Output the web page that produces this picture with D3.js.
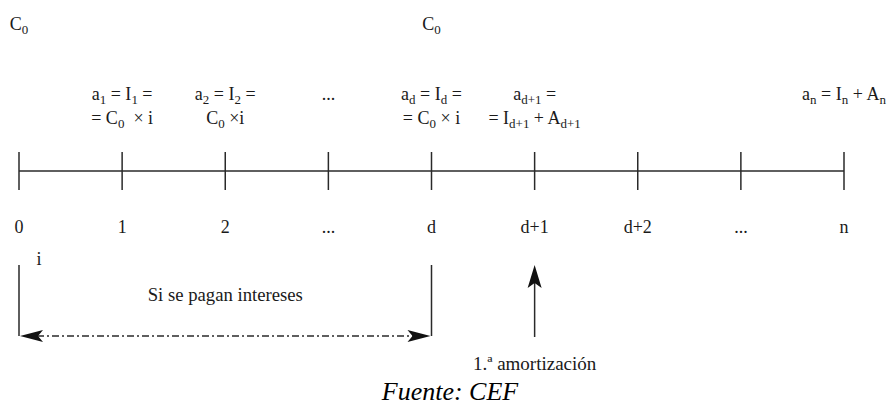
<!DOCTYPE html>
<html><head><meta charset="utf-8">
<script src="https://cdn.jsdelivr.net/npm/d3@7"></script>
</head><body style="margin:0;background:#fff">
<svg id="c" width="890" height="410"></svg>
<script>
// ---- data ----
const periods = ["0","1","2","...","d","d+1","d+2","...","n"];
const paymentLine1 = [null,"a_{1} = I_{1} =","a_{2} = I_{2} =","...","a_{d} = I_{d} =","a_{d+1} =",null,null,"a_{n} = I_{n} + A_{n}"];
const paymentLine2 = [null,"= C_{0}\u2002× i","C_{0} ×i",null,"= C_{0} × i","= I_{d+1} + A_{d+1}",null,null,null];
const capitalPeriods = ["0","d"];
const capitalLabel = "C_{0}";
const rateLabel = "i";
const interestSpan = ["0","d"];
const interestLabel = "Si se pagan intereses";
const firstAmortPeriod = "d+1";
const firstAmortLabel = "1.ª amortización";
const sourceLabel = "Fuente: CEF";

// ---- layout ----
const svg = d3.select("#c");
const x = d3.scalePoint().domain(d3.range(periods.length)).range([19, 844]);
const px = p => x(periods.indexOf(p));
const axisY = 171, stroke = "#2a2a2a", ink = "#1a1a1a";
const FONT = '"Liberation Serif"';

function rich(sel, str){
  const parts = str.split(/(_\{[^}]*\})/).filter(s => s.length);
  let shifted = false;
  parts.forEach(p => {
    if (p.startsWith("_{")) {
      sel.append("tspan").attr("dy", shifted ? 0 : 4).attr("font-size","0.72em").text(p.slice(2,-1));
      shifted = true;
    } else {
      sel.append("tspan").attr("dy", shifted ? -4 : 0).text(p);
      shifted = false;
    }
  });
}
const label = (xx, yy, size) => svg.append("text").attr("x", xx).attr("y", yy)
  .style("font-family", FONT).attr("font-size", size)
  .attr("text-anchor","middle").attr("fill", ink);

// timeline
svg.append("line").attr("x1", x(0)).attr("x2", x(periods.length-1))
  .attr("y1", axisY).attr("y2", axisY).attr("stroke", stroke).attr("stroke-width", 1.5);
svg.selectAll("line.tick").data(d3.range(periods.length)).join("line").attr("class","tick")
  .attr("x1", d => x(d)).attr("x2", d => x(d)).attr("y1", axisY-19).attr("y2", axisY+19)
  .attr("stroke", stroke).attr("stroke-width", 1.5);

// period labels
periods.forEach((p,i) => label(x(i), 233, 18).text(p));

// payment annotations
paymentLine1.forEach((s,i) => { if (s) rich(label(x(i), 100, 18), s); });
paymentLine2.forEach((s,i) => { if (s) rich(label(x(i), 124, 18), s); });

// capital
capitalPeriods.forEach(p => rich(label(px(p), 30, 18), capitalLabel));

// interest bracket
const bx0 = px(interestSpan[0]), bx1 = px(interestSpan[1]), bTop = 265, bBot = 336;
svg.append("path").attr("d", `M${bx0},${bTop}V${bBot}M${bx1},${bTop}V${bBot}`)
  .attr("stroke", stroke).attr("stroke-width", 1.5).attr("fill","none");
svg.append("line").attr("x1", bx0+18).attr("x2", bx1-18).attr("y1", bBot).attr("y2", bBot)
  .attr("stroke", stroke).attr("stroke-width", 1.4).attr("stroke-dasharray","7,3,2,3");
const head = (tx, ty, dir) => {
  const L = 23, W = 6, N = 18;
  return `M${tx},${ty}L${tx+dir*L},${ty-W}L${tx+dir*N},${ty}L${tx+dir*L},${ty+W}Z`;
};
svg.append("path").attr("d", head(bx0+1, bBot, 1)).attr("fill", "#111");
svg.append("path").attr("d", head(bx1-1, bBot, -1)).attr("fill", "#111");
label(bx0+20, 265, 18).text(rateLabel);
label((bx0+bx1)/2, 301, 18.7).text(interestLabel);

// first amortization arrow
const ax = px(firstAmortPeriod);
svg.append("line").attr("x1", ax).attr("x2", ax).attr("y1", 337).attr("y2", 282)
  .attr("stroke", stroke).attr("stroke-width", 1.5);
svg.append("path").attr("d", `M${ax},265L${ax-7},288L${ax},283L${ax+7},288Z`).attr("fill","#111");
label(ax, 370, 19).text(firstAmortLabel);

// source
label(450, 400, 26).attr("font-style","italic").attr("fill","#000").text(sourceLabel);
</script>
</body></html>
